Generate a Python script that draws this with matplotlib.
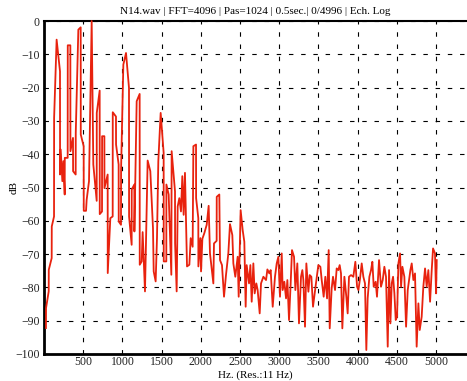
# Spectrum plot of N14.wav (FFT level in dB vs frequency)
import matplotlib
matplotlib.use("Agg")
import matplotlib.pyplot as plt

# Frequency (Hz) and level (dB)
freq_hz = [25, 26, 60, 61, 98, 99, 128, 129, 161, 204, 205, 213, 234, 247, 264, 265, 302, 303, 336, 337,
           370, 371, 404, 405, 438, 468, 469, 506, 507, 536, 544, 574, 608, 629, 672, 673, 710, 711, 740, 741,
           770, 771, 812, 813, 846, 876, 877, 918, 919, 952, 953, 982, 983, 1012, 1046, 1084, 1085, 1118, 1119,
           1152, 1153, 1182, 1220, 1221, 1246, 1258, 1288, 1322, 1356, 1390, 1399, 1424, 1441, 1458, 1488,
           1526, 1527, 1560, 1561, 1590, 1624, 1628, 1671, 1672, 1692, 1705, 1726, 1747, 1764, 1781, 1798,
           1824, 1854, 1871, 1896, 1905, 1939, 1940, 1968, 1969, 1994, 2003, 2020, 2045, 2075, 2100, 2117,
           2160, 2168, 2202, 2203, 2236, 2245, 2270, 2296, 2321, 2351, 2372, 2402, 2415, 2440, 2470, 2483,
           2508, 2534, 2555, 2572, 2585, 2615, 2632, 2649, 2670, 2687, 2708, 2725, 2751, 2768, 2798, 2832,
           2849, 2874, 2891, 2917, 2946, 2968, 2989, 3010, 3032, 3044, 3065, 3087, 3104, 3125, 3146, 3163,
           3189, 3206, 3231, 3252, 3278, 3295, 3308, 3329, 3346, 3372, 3389, 3410, 3431, 3457, 3474, 3499,
           3525, 3542, 3567, 3588, 3610, 3631, 3644, 3669, 3686, 3712, 3733, 3754, 3771, 3788, 3805, 3831,
           3856, 3873, 3890, 3916, 3945, 3971, 3993, 4010, 4031, 4052, 4073, 4094, 4111, 4128, 4150, 4171,
           4188, 4205, 4230, 4247, 4273, 4298, 4320, 4341, 4362, 4384, 4401, 4418, 4435, 4452, 4469, 4486,
           4503, 4520, 4541, 4554, 4571, 4596, 4618, 4639, 4656, 4673, 4690, 4711, 4732, 4753, 4775, 4792,
           4817, 4838, 4860, 4881, 4902, 4924, 4945, 4962, 4987, 5000, 5009]
level_db = [-92.2, -86.2, -81.2, -74.7, -71.2, -61.7, -58.7, -29.1, -5.6, -15.1, -46.1, -38.6, -48.1, -42.1,
            -52.1, -41.1, -41.1, -7.3, -7.3, -39.1, -35.1, -45.1, -46.1, -33.6, -2.6, -1.9, -34.1, -37.6,
            -57.0, -57.0, -53.7, -48.1, 0.0, -43.1, -54.0, -27.6, -20.9, -58.0, -57.2, -34.6, -34.6, -50.2,
            -46.1, -75.7, -59.2, -58.7, -27.4, -28.7, -37.1, -43.1, -60.2, -61.2, -44.6, -13.1, -9.6, -20.1,
            -58.7, -67.2, -50.6, -49.1, -63.2, -24.1, -21.9, -73.2, -72.2, -63.4, -81.2, -41.9, -45.1, -62.2,
            -75.2, -78.2, -65.2, -42.1, -27.6, -39.6, -72.2, -72.2, -49.1, -52.1, -76.2, -39.1, -51.2, -66.7,
            -81.2, -55.7, -53.2, -57.2, -46.6, -58.2, -45.6, -73.7, -73.2, -65.2, -67.8, -37.6, -37.1, -53.2,
            -59.2, -73.7, -65.2, -75.2, -65.4, -63.7, -61.2, -55.5, -69.8, -78.8, -66.8, -66.0, -52.8, -52.1,
            -71.8, -73.3, -82.8, -76.3, -69.8, -61.0, -64.3, -72.8, -76.8, -70.8, -82.8, -56.8, -62.8, -66.3,
            -85.8, -73.3, -78.8, -73.3, -84.3, -72.8, -81.8, -78.8, -80.8, -87.8, -78.8, -76.8, -77.8, -74.6,
            -75.8, -74.8, -85.8, -76.8, -72.8, -70.8, -82.8, -69.8, -80.8, -78.3, -83.3, -77.8, -89.8, -78.8,
            -68.8, -70.8, -80.8, -72.8, -90.8, -76.8, -74.8, -77.8, -91.8, -72.8, -81.3, -76.3, -76.8, -85.8,
            -80.8, -77.8, -73.3, -73.8, -77.8, -82.8, -76.8, -83.3, -68.8, -92.3, -80.3, -76.8, -80.8, -74.3,
            -74.8, -73.3, -75.8, -92.3, -76.8, -82.8, -87.8, -76.8, -76.3, -76.8, -72.3, -79.8, -80.8, -77.3,
            -72.8, -76.8, -78.8, -98.8, -83.3, -76.8, -74.8, -72.3, -79.8, -78.3, -82.8, -71.8, -79.8, -77.8,
            -73.8, -76.8, -97.8, -74.8, -90.8, -78.8, -76.8, -81.8, -89.8, -88.8, -72.8, -69.8, -79.8, -73.8,
            -76.8, -91.8, -80.8, -77.8, -74.8, -72.8, -77.8, -75.8, -97.8, -84.8, -92.8, -88.8, -79.8, -74.3,
            -79.8, -74.8, -84.3, -74.8, -68.3, -69.8, -81.8, -71.8]

x_ticks = [500, 1000, 1500, 2000, 2500, 3000, 3500, 4000, 4500, 5000]
y_ticks = list(range(-100, 1, 10))

plt.rcParams['font.family'] = ['Liberation Serif', 'DejaVu Serif']

fig = plt.figure(figsize=(4.67, 3.81), dpi=100)
ax = fig.add_axes([44 / 467, 27 / 381, 423 / 467, 333 / 381])

# the spectrum
ax.plot(freq_hz, level_db, color='#e8220e', linewidth=1.3, clip_on=False, zorder=3)

ax.set_xlim(0, 5395)
ax.set_ylim(-100, 0)
ax.set_xticks(x_ticks)
ax.set_yticks(y_ticks)
ax.tick_params(labelsize=8.5, length=0, colors='#222222', pad=3)
ax.tick_params(axis='x', pad=1.5)

# dashed black grid
ax.grid(True, color='black', linestyle=(0, (4, 7)), linewidth=0.8)

for side in ['left', 'bottom']:
    ax.spines[side].set_linewidth(2)
ax.spines['top'].set_linewidth(1.5)
ax.spines['right'].set_visible(False)

ax.set_title('N14.wav | FFT=4096 | Pas=1024 | 0.5sec.| 0/4996 | Ech. Log', fontsize=8, pad=5)
ax.set_xlabel('Hz. (Res.:11 Hz)', fontsize=8, va='center')
ax.set_ylabel('dB', fontsize=8, va='center')
# put the axis labels where the reference has them
ax.xaxis.set_label_coords(0.5, -0.064)
ax.yaxis.set_label_coords(-0.071, 0.5)

fig.savefig('out.png', dpi=100)
